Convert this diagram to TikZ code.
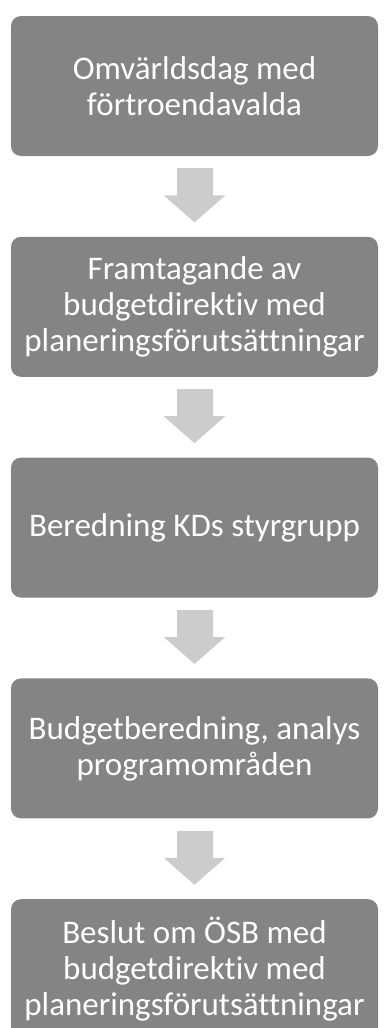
\documentclass[tikz,border=0pt]{standalone}
\usepackage{fontspec}
\setmainfont{Carlito}[Ligatures={NoCommon,TeX}]
\usetikzlibrary{positioning,arrows.meta}
\definecolor{boxgray}{HTML}{848484}
\definecolor{arrowgray}{HTML}{CCCCCC}
\begin{document}
\begin{tikzpicture}[node distance=40pt]
\tikzset{stagebox/.style={shape=rectangle,rounded corners=5pt,fill=boxgray,text=white,
                          minimum width=183.5pt,minimum height=70pt,align=center,
                          font=\fontsize{16.5}{18}\selectfont}}
\tikzset{flowarrow/.style={draw=arrowgray,line width=18pt,
                           -{Triangle[width=30pt,length=13.5pt]},
                           shorten <=6pt,shorten >=7pt}}
\useasboundingbox (0,0) rectangle (193pt,-514pt);
%\fill[white] (0,0) rectangle (193pt,-514pt);
\node[stagebox] (omvarld) at (97.25pt,-43pt) {Omvärldsdag med\\förtroendavalda};
\node[stagebox, below=of omvarld] (direktiv) {Framtagande av\\budgetdirektiv med\\planeringsförutsättningar};
\node[stagebox, below=of direktiv] (styrgrupp) {Beredning KDs styrgrupp};
\node[stagebox, below=of styrgrupp] (analys) {Budgetberedning, analys\\programområden};
\node[stagebox, below=of analys] (beslut) {Beslut om ÖSB med\\budgetdirektiv med\\planeringsförutsättningar};
% block arrows between the stages
\draw[flowarrow] (omvarld) -- (direktiv);
\draw[flowarrow] (direktiv) -- (styrgrupp);
\draw[flowarrow] (styrgrupp) -- (analys);
\draw[flowarrow] (analys) -- (beslut);
\end{tikzpicture}
\end{document}
